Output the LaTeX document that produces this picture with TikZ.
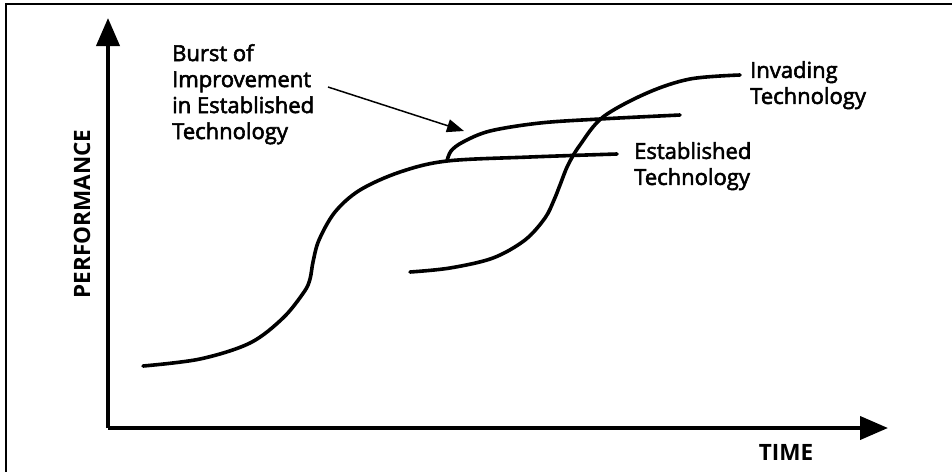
\documentclass[tikz,border=0pt]{standalone}
\usepackage{fontspec}
\setmainfont{Open Sans}
\newfontfamily\medfont[FakeBold=2.5]{Open Sans}
\usetikzlibrary{arrows.meta}
\begin{document}
\begin{tikzpicture}[x=1pt,y=-1pt,
  axis/.style={line width=4pt,-{Triangle[length=28pt,width=23pt]}},
  curve/.style={line width=3.6pt,line cap=round,line join=round},
  lbl/.style={font=\medfont\fontsize{22}{26}\selectfont,align=left,inner sep=0pt,anchor=north west},
  axlbl/.style={font=\fontsize{22.5}{26}\selectfont\bfseries,inner sep=0pt},
  pointer/.style={line width=1.5pt,-{Triangle[length=17pt,width=13pt]}},
  frame/.style={line width=1.6pt}]
\useasboundingbox (0,0) rectangle (952,472);
\fill[white] (0,0) rectangle (952,472);
% frame (top and left edges only)
\coordinate (fr1) at (952,4);
\coordinate (fr2) at (6,4);
\coordinate (fr3) at (6,472);
\draw[frame] (fr1) -- (fr2) -- (fr3);
% axes
\coordinate (origin) at (108,428);
\coordinate (ytip) at (108,18);
\coordinate (xtip) at (888,428);
\draw[axis] (origin) -- (ytip);
\draw[axis] (origin) -- (xtip);
\node[axlbl,rotate=90] (perf) at (82,214) {PERFORMANCE};
\node[axlbl] (time) at (786,452) {TIME};
% established technology
\draw[curve] plot[smooth,tension=0.55] coordinates {(143,366) (200,359) (250,343) (283,318) (304,292) (310,279) (313,262) (319,240) (335,212) (360,190) (400,172) (447,161) (530,157) (617,154)};
% burst of improvement
\draw[curve] plot[smooth,tension=0.55] coordinates {(447,161) (451,151) (463,142) (490,131) (540,123) (600,119) (680,115)};
% invading technology
\draw[curve] plot[smooth,tension=0.55] coordinates {(410,272) (450,268) (493,258) (525,240) (545,218) (554,200) (560,185) (568,165) (580,145) (603,117) (647,93) (690,79) (740,75)};
% labels
\node[lbl] (burst) at (172,44) {Burst of\\Improvement\\in Established\\Technology};
\node[lbl] (invading) at (750,61) {Invading\\Technology};
\node[lbl] (established) at (634,142) {Established\\Technology};
\coordinate (ptrstart) at (328,87);
\coordinate (ptrend) at (464,131);
\draw[pointer] (ptrstart) -- (ptrend);
\end{tikzpicture}
\end{document}
